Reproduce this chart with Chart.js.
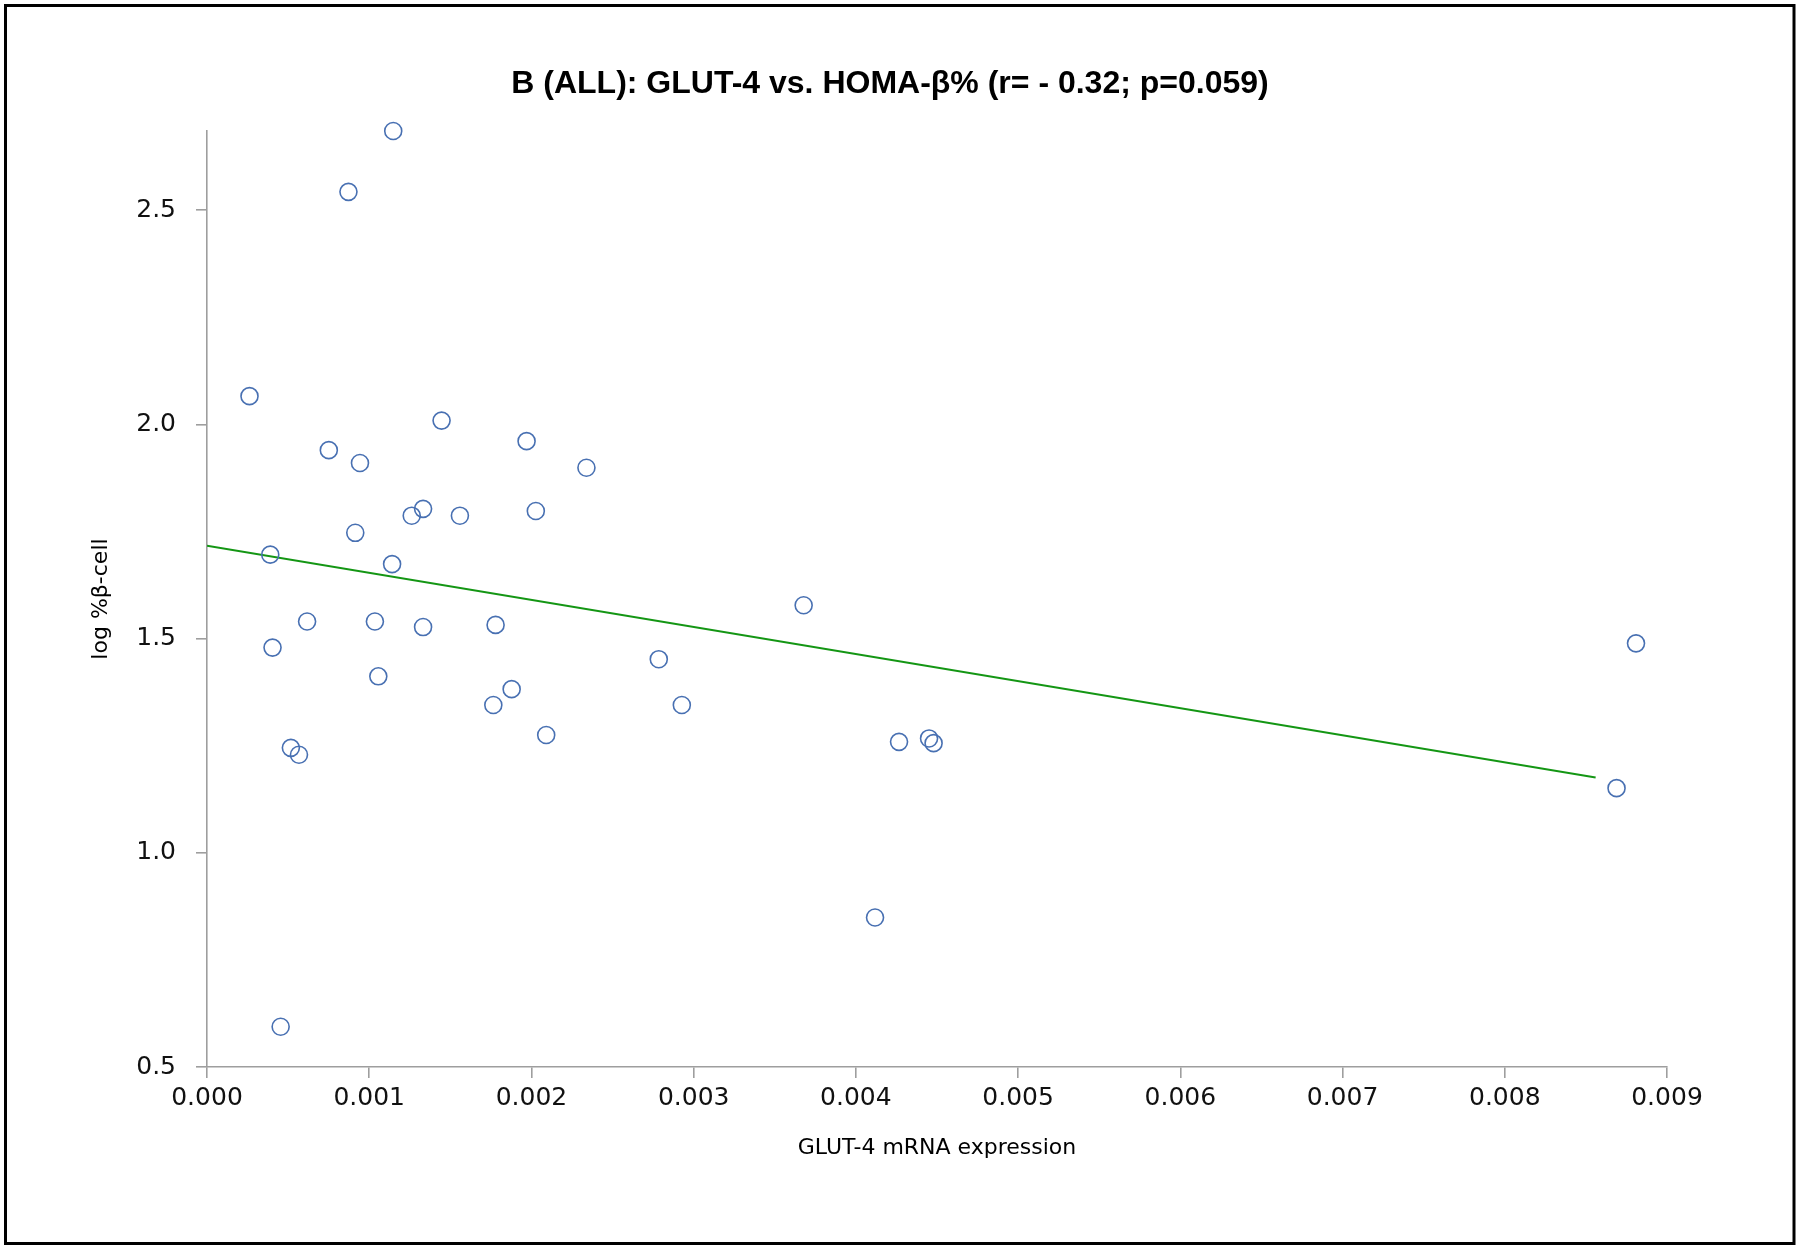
<!DOCTYPE html>
<html>
<head>
<meta charset="utf-8">
<script src="https://cdn.jsdelivr.net/npm/chart.js@4.4.1/dist/chart.umd.min.js"></script>
<style>
  html, body { margin: 0; padding: 0; background: #ffffff; }
  #wrap { position: absolute; left: 0; top: 0; width: 1800px; height: 1250px; }
</style>
</head>
<body>
<div id="wrap"><canvas id="c" width="1800" height="1250"></canvas></div>
<script>
// ---- data ----
const glut4Expression = [
  0.000262, 0.000390, 0.000404, 0.000454, 0.000517, 0.000567, 0.000617, 0.000751,
  0.000872, 0.000914, 0.000943, 0.001035, 0.001056, 0.001141, 0.001148, 0.001262,
  0.001332, 0.001332, 0.001446, 0.001559, 0.001765, 0.001779, 0.001878, 0.001970,
  0.002027, 0.002091, 0.002339, 0.002785, 0.002927, 0.003678, 0.004118, 0.004266,
  0.004451, 0.004479, 0.008689, 0.008809
];
const logBetaCell = [
  2.066, 1.696, 1.479, 0.594, 1.245, 1.229, 1.540, 1.940,
  2.543, 1.747, 1.910, 1.540, 1.412, 1.674, 2.685, 1.787,
  1.803, 1.527, 2.009, 1.787, 1.345, 1.532, 1.382, 1.961,
  1.798, 1.275, 1.899, 1.452, 1.345, 1.578, 0.849, 1.259,
  1.267, 1.256, 1.151, 1.489
];
const trendX = [0.0, 0.00856];
const trendY = [1.717, 1.176];

const xTickValues = [0.000, 0.001, 0.002, 0.003, 0.004, 0.005, 0.006, 0.007, 0.008, 0.009];
const xTickLabels = ['0.000', '0.001', '0.002', '0.003', '0.004', '0.005', '0.006', '0.007', '0.008', '0.009'];
const yTickValues = [0.5, 1.0, 1.5, 2.0, 2.5];
const yTickLabels = ['0.5', '1.0', '1.5', '2.0', '2.5'];

const chartTitle = 'B (ALL): GLUT-4 vs. HOMA-\u03B2% (r= - 0.32; p=0.059)';
const xTitle = 'GLUT-4 mRNA expression';
const yTitle = 'log %\u03B2-cell';

// ---- build chart ----
const scatterPoints = glut4Expression.map((x, i) => ({ x: x, y: logBetaCell[i] }));
const trendPoints = trendX.map((x, i) => ({ x: x, y: trendY[i] }));

const framePlugin = {
  id: 'frame',
  beforeDraw(chart) {
    const ctx = chart.ctx;
    ctx.save();
    ctx.fillStyle = '#ffffff';
    ctx.fillRect(0, 0, chart.width, chart.height);
    ctx.restore();
  },
  afterDraw(chart) {
    const ctx = chart.ctx;
    ctx.save();
    // chart title, centred on the whole framed chart
    ctx.fillStyle = '#000000';
    ctx.font = 'bold 32px "Liberation Sans Narrow", "Liberation Sans", sans-serif';
    ctx.textAlign = 'center';
    ctx.textBaseline = 'middle';
    ctx.fillText(chartTitle, 890, 84);
    // outer frame
    ctx.strokeStyle = '#000000';
    ctx.lineWidth = 3;
    ctx.strokeRect(5.5, 5.5, 1788.5, 1238);
    ctx.restore();
  }
};

const axisGray = '#9e9e9e';
const tickFont = { family: 'DejaVu Sans', size: 25 };
const titleFont = { family: 'DejaVu Sans', size: 22 };

new Chart(document.getElementById('c'), {
  type: 'scatter',
  data: {
    datasets: [
      {
        label: 'data',
        data: scatterPoints,
        showLine: false,
        pointStyle: 'circle',
        pointRadius: 8.5,
        pointHoverRadius: 8.5,
        pointBorderWidth: 1.6,
        borderColor: 'rgb(72,112,178)',
        backgroundColor: 'rgba(0,0,0,0)',
        clip: false,
        order: 1
      },
      {
        label: 'trend',
        data: trendPoints,
        showLine: true,
        pointRadius: 0,
        borderColor: 'rgb(20,150,20)',
        borderWidth: 2,
        fill: false,
        order: 2
      }
    ]
  },
  options: {
    responsive: false,
    animation: false,
    devicePixelRatio: 1,
    layout: { padding: { left: 0, right: 133, top: 131, bottom: 0 } },
    plugins: {
      legend: { display: false },
      tooltip: { enabled: false },
      title: { display: false }
    },
    scales: {
      x: {
        type: 'linear',
        min: 0,
        max: 0.009,
        afterFit(scale) { scale.height = 183; },
        afterBuildTicks(scale) { scale.ticks = xTickValues.map(v => ({ value: v })); },
        border: { display: true, color: axisGray, width: 1.6 },
        grid: { drawOnChartArea: false, drawTicks: true, tickLength: 11, color: axisGray, lineWidth: 1.6 },
        ticks: {
          color: '#111111',
          font: tickFont,
          padding: 5,
          maxRotation: 0,
          autoSkip: false,
          callback(value, index) { return xTickLabels[index]; }
        },
        title: {
          display: true,
          text: xTitle,
          color: '#000000',
          font: titleFont,
          padding: { top: 0, bottom: 89 }
        }
      },
      y: {
        type: 'linear',
        min: 0.5,
        max: 2.685,
        afterFit(scale) { scale.width = 207; },
        afterBuildTicks(scale) { scale.ticks = yTickValues.map(v => ({ value: v })); },
        border: { display: true, color: axisGray, width: 1.6 },
        grid: { drawOnChartArea: false, drawTicks: true, tickLength: 11, color: axisGray, lineWidth: 1.6 },
        ticks: {
          color: '#111111',
          font: tickFont,
          padding: 20,
          autoSkip: false,
          callback(value, index) { return yTickLabels[index]; }
        },
        title: {
          display: true,
          text: yTitle,
          color: '#000000',
          font: titleFont,
          padding: { top: 88, bottom: 0 }
        }
      }
    }
  },
  plugins: [framePlugin]
});
</script>
</body>
</html>
